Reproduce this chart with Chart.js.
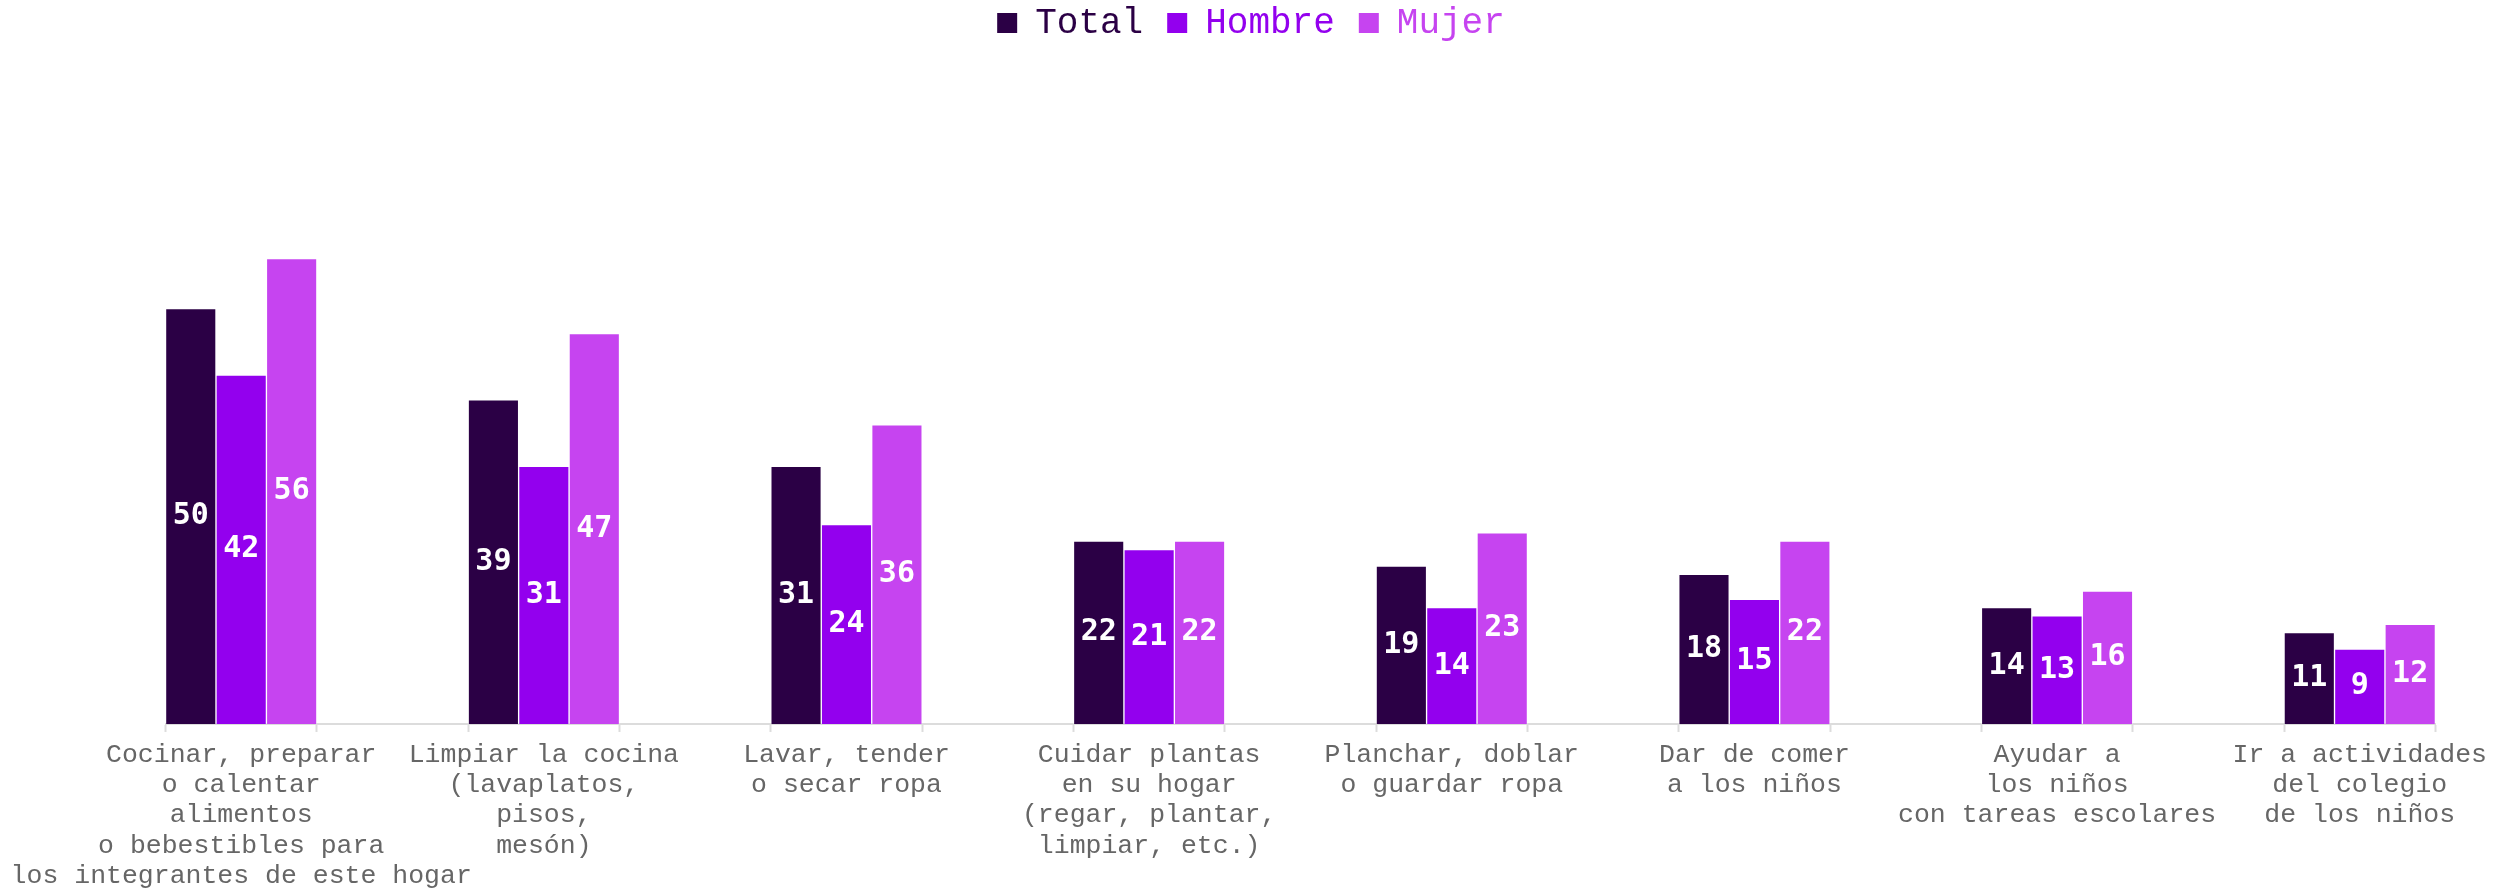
<!DOCTYPE html>
<html>
<head>
<meta charset="utf-8">
<script src="https://cdn.jsdelivr.net/npm/chart.js@4.4.1/dist/chart.umd.min.js"></script>
<style>
  html, body { margin: 0; padding: 0; background: #fff; }
  #wrap { width: 2502px; height: 890px; }
</style>
</head>
<body>
<div id="wrap"><canvas id="tareasChart"></canvas></div>
<script>
const categories = [
    ['Cocinar, preparar', 'o calentar', 'alimentos', 'o bebestibles para', 'los integrantes de este hogar'],
    ['Limpiar la cocina', '(lavaplatos,', 'pisos,', 'mesón)'],
    ['Lavar, tender', 'o secar ropa'],
    ['Cuidar plantas', 'en su hogar', '(regar, plantar,', 'limpiar, etc.)'],
    ['Planchar, doblar', 'o guardar ropa'],
    ['Dar de comer', 'a los niños'],
    ['Ayudar a', 'los niños', 'con tareas escolares'],
    ['Ir a actividades', 'del colegio', 'de los niños']
];
const totalValues = [50, 39, 31, 22, 19, 18, 14, 11];
const hombreValues = [42, 31, 24, 21, 14, 15, 13, 9];
const mujerValues = [56, 47, 36, 22, 23, 22, 16, 12];

const palette = {
    total: '#2b0045',
    hombre: '#9300ee',
    mujer: '#c644f0'
};

const monoFont = "'Courier New', 'Liberation Mono', monospace";

// empty slot between groups, like the original layout
const spaced = (arr, gap) => arr.flatMap((v, i) => i === 0 ? [v] : [gap, v]);

const valueLabels = {
    id: 'valueLabels',
    afterDatasetsDraw(chart) {
        const ctx = chart.ctx;
        ctx.save();
        ctx.font = "bold 30px 'DejaVu Sans Mono', monospace";
        ctx.fillStyle = '#ffffff';
        ctx.textAlign = 'center';
        ctx.textBaseline = 'middle';
        chart.data.datasets.forEach((ds, di) => {
            chart.getDatasetMeta(di).data.forEach((bar, i) => {
                const v = ds.data[i];
                if (v === null || v === undefined) return;
                ctx.fillText(Math.round(v), bar.x, (bar.y + bar.base) / 2);
            });
        });
        ctx.restore();
    }
};

const ctx = document.getElementById('tareasChart').getContext('2d');
new Chart(ctx, {
    type: 'bar',
    data: {
        labels: spaced(categories, ''),
        datasets: [{
            label: 'Total',
            data: spaced(totalValues, null),
            backgroundColor: palette.total
        }, {
            label: 'Hombre',
            data: spaced(hombreValues, null),
            backgroundColor: palette.hombre
        }, {
            label: 'Mujer',
            data: spaced(mujerValues, null),
            backgroundColor: palette.mujer
        }]
    },
    options: {
        responsive: true,
        maintainAspectRatio: false,
        animation: false,
        layout: { padding: { top: -19, left: 0, right: 0, bottom: -9 } },
        datasets: {
            bar: {
                categoryPercentage: 1,
                barPercentage: 1,
                borderWidth: 1,
                borderColor: 'rgba(255,255,255,0.35)'
            }
        },
        plugins: {
            legend: {
                position: 'top',
                labels: {
                    boxWidth: 20,
                    boxHeight: 20,
                    padding: 24,
                    font: { size: 36, family: monoFont },
                    generateLabels: (chart) => Chart.defaults.plugins.legend.labels.generateLabels(chart)
                        .map(item => ({ ...item, fontColor: item.fillStyle, lineWidth: 0 }))
                }
            },
            tooltip: { enabled: false }
        },
        scales: {
            x: {
                afterFit: (scale) => {
                    scale.paddingLeft += 5;
                    scale.paddingRight += 13;
                },
                grid: {
                    offset: true,
                    drawOnChartArea: false,
                    drawTicks: true,
                    tickLength: 8,
                    tickWidth: 2,
                    color: '#dcdcdc'
                },
                border: { color: '#dcdcdc', width: 2 },
                ticks: {
                    autoSkip: false,
                    maxRotation: 0,
                    minRotation: 0,
                    padding: 8,
                    color: '#666666',
                    font: { size: 26.5, family: monoFont, lineHeight: 1.14 }
                }
            },
            y: {
                display: false,
                beginAtZero: true,
                max: 81
            }
        }
    },
    plugins: [valueLabels]
});
</script>
</body>
</html>
